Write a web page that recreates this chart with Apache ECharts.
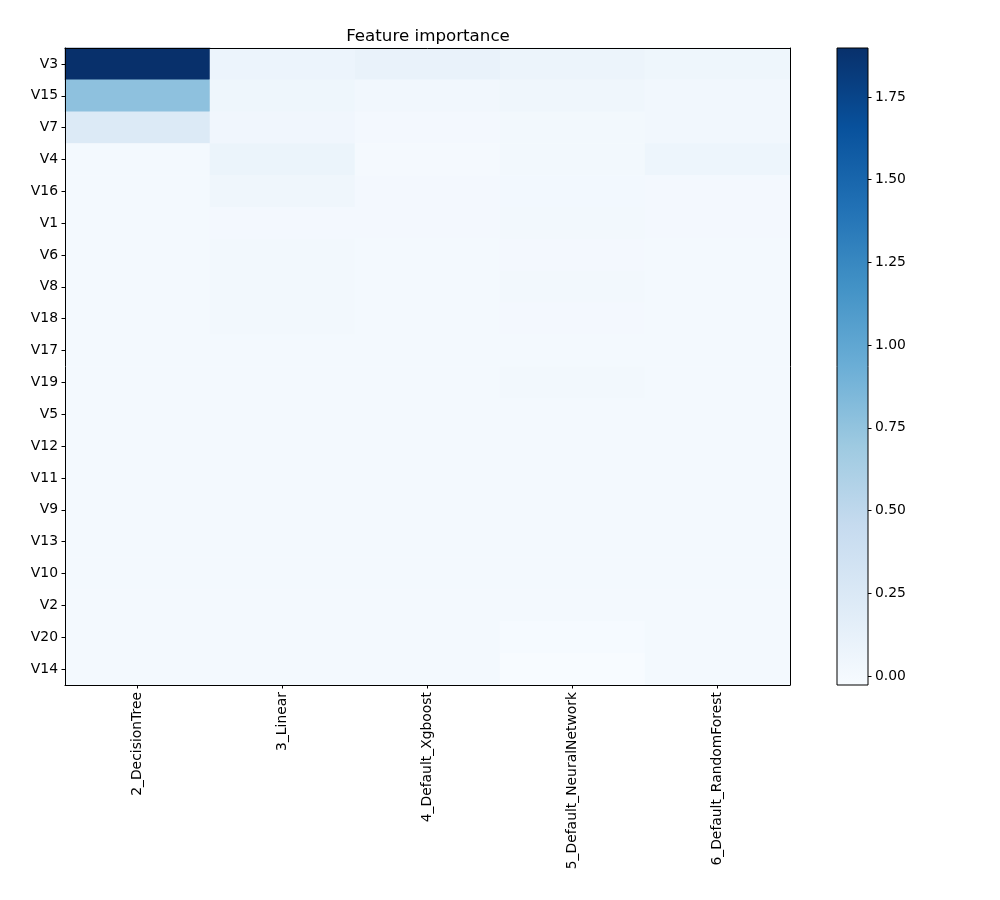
<!DOCTYPE html>
<html>
<head>
<meta charset="utf-8">
<script src="https://cdn.jsdelivr.net/npm/echarts@6/dist/echarts.min.js"></script>
<style>html,body{margin:0;padding:0;background:#fff;}#chart{width:1000px;height:900px;}</style>
</head>
<body>
<div id="chart"></div>
<script>
const models = ['2_DecisionTree', '3_Linear', '4_Default_Xgboost', '5_Default_NeuralNetwork', '6_Default_RandomForest'];
const features = ['V3', 'V15', 'V7', 'V4', 'V16', 'V1', 'V6', 'V8', 'V18', 'V17', 'V19', 'V5', 'V12', 'V11', 'V9', 'V13', 'V10', 'V2', 'V20', 'V14'];
const decisionTree = [1.898, 0.77, 0.233, 0.008, 0.008, 0.008, 0.008, 0.008, 0.008, 0.008, 0.008, 0.008, 0.008, 0.008, 0.008, 0.008, 0.008, 0.008, 0.008, 0.008];
const linear = [0.075, 0.055, 0.042, 0.085, 0.05, 0.012, 0.022, 0.022, 0.02, 0.008, 0.008, 0.008, 0.008, 0.008, 0.008, 0.008, 0.008, 0.008, 0.008, 0.008];
const xgboost = [0.11, 0.028, 0.012, 0.002, 0.014, 0.012, 0.01, 0.01, 0.01, 0.008, 0.008, 0.008, 0.008, 0.008, 0.008, 0.008, 0.008, 0.008, 0.008, 0.008];
const neuralNetwork = [0.08, 0.05, 0.025, 0.02, 0.018, 0.022, 0.012, 0.022, 0.012, 0.01, 0.022, 0.008, 0.008, 0.008, 0.008, 0.008, 0.008, 0.008, -0.012, -0.027];
const randomForest = [0.055, 0.028, 0.028, 0.065, 0.015, 0.015, 0.01, 0.01, 0.01, 0.008, 0.008, 0.008, 0.008, 0.008, 0.008, 0.008, 0.008, 0.008, 0.008, 0.008];
const colorbarTicks = [0, 0.25, 0.5, 0.75, 1.0, 1.25, 1.5, 1.75];
const vmin = -0.027, vmax = 1.898;

const columns = [decisionTree, linear, xgboost, neuralNetwork, randomForest];
const heatData = [];
columns.forEach((col, ci) => col.forEach((v, ri) => heatData.push([ci, ri, v])));

const blues = ['#f7fbff', '#deebf7', '#c6dbef', '#9ecae1', '#6baed6', '#4292c6', '#2171b5', '#08519c', '#08306b'];
const font = 'DejaVu Sans';
const fs = 13.9;

const chart = echarts.init(document.getElementById('chart'), null, {renderer: 'canvas'});
chart.setOption({
  backgroundColor: '#fff',
  animation: false,
  title: {
    text: 'Feature importance', left: 423, top: 23, textAlign: 'center',
    textStyle: {fontFamily: font, fontSize: 16.7, fontWeight: 'normal', color: '#000'}
  },
  grid: [
    {left: 65, top: 48, width: 725, height: 637, containLabel: false},
    {left: 837, top: 48, width: 31, height: 637, containLabel: false}
  ],
  visualMap: {
    show: false, type: 'continuous', min: vmin, max: vmax, dimension: 2, seriesIndex: 0,
    inRange: {color: blues}
  },
  xAxis: [
    {
      type: 'category', gridIndex: 0, data: models, position: 'bottom', z: 10,
      axisLine: {show: true, lineStyle: {color: '#000', width: 1}},
      axisTick: {show: true, alignWithLabel: true, length: 3.5, lineStyle: {color: '#000'}},
      axisLabel: {rotate: 90, margin: 7, fontFamily: font, fontSize: fs, color: '#000'},
      splitLine: {show: false}
    },
    {
      type: 'category', gridIndex: 0, data: models, position: 'top', z: 10,
      axisLine: {show: true, lineStyle: {color: '#000', width: 1}},
      axisTick: {show: false}, axisLabel: {show: false}, splitLine: {show: false}
    },
    {
      type: 'category', gridIndex: 1, data: ['cb'], show: false
    }
  ],
  yAxis: [
    {
      type: 'category', gridIndex: 0, data: features, inverse: true, position: 'left', z: 10,
      axisLine: {show: true, lineStyle: {color: '#000', width: 1}},
      axisTick: {show: true, alignWithLabel: true, length: 3.5, lineStyle: {color: '#000'}},
      axisLabel: {margin: 7, fontFamily: font, fontSize: fs, color: '#000', padding: [3, 0, 0, 0]},
      splitLine: {show: false}
    },
    {
      type: 'category', gridIndex: 0, data: features, inverse: true, position: 'right', z: 10,
      axisLine: {show: true, lineStyle: {color: '#000', width: 1}},
      axisTick: {show: false}, axisLabel: {show: false}, splitLine: {show: false}
    },
    {
      type: 'value', gridIndex: 1, min: vmin, max: vmax, position: 'right', z: 10,
      axisLine: {show: false},
      axisTick: {show: true, length: 3.5, customValues: colorbarTicks, lineStyle: {color: '#000'}},
      axisLabel: {
        margin: 7, fontFamily: font, fontSize: fs, color: '#000', customValues: colorbarTicks,
        formatter: v => Number(v).toFixed(2)
      },
      splitLine: {show: false}
    }
  ],
  series: [
    {
      type: 'heatmap', xAxisIndex: 0, yAxisIndex: 0, data: heatData,
      itemStyle: {borderWidth: 0},
      emphasis: {disabled: true}
    },
    {
      type: 'custom', xAxisIndex: 2, yAxisIndex: 2, data: [[0, vmax]],
      renderItem: function (params, api) {
        const top = api.coord([0, vmax]);
        const bottom = api.coord([0, vmin]);
        const cs = params.coordSys;
        return {
          type: 'rect',
          shape: {x: cs.x, y: top[1], width: cs.width, height: bottom[1] - top[1]},
          style: {
            fill: new echarts.graphic.LinearGradient(0, 1, 0, 0,
              blues.map((c, i) => ({offset: i / (blues.length - 1), color: c}))),
            stroke: '#000', lineWidth: 1
          }
        };
      }
    }
  ]
});
</script>
</body>
</html>
